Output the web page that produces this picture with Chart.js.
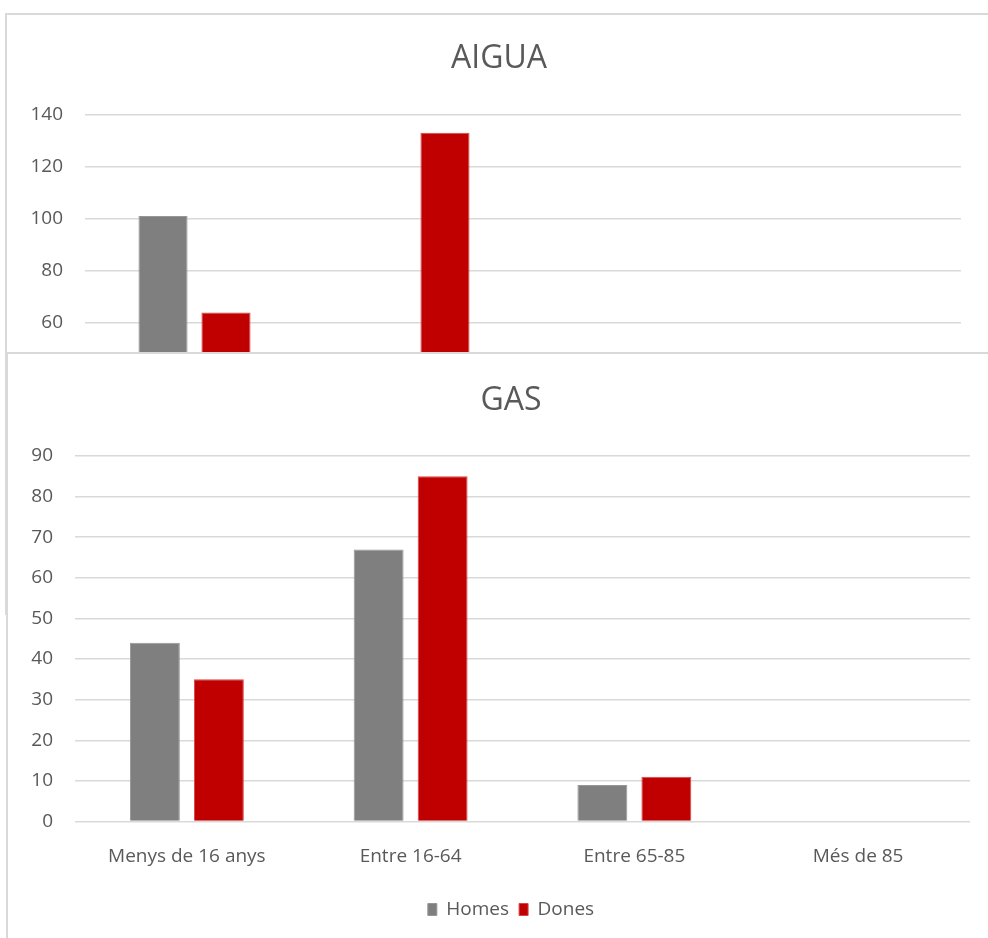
<!DOCTYPE html>
<html>
<head>
<meta charset="utf-8">
<script src="https://cdn.jsdelivr.net/npm/chart.js@4"></script>
<style>
  html, body { margin: 0; padding: 0; background: #fff; width: 988px; height: 938px; overflow: hidden; }
  .frame { position: absolute; background: #fff; border-left: 2px solid #d9d9d9; border-top: 2px solid #d9d9d9; }
  #aigua-frame { left: 5px; top: 13px; width: 1000px; height: 600px; z-index: 1; }
  #gas-frame   { left: 6px; top: 352px; width: 1020px; height: 600px; z-index: 3; }
  canvas { position: absolute; }
  #aiguaChart { left: 8px; top: 15px; z-index: 2; }
  #gasChart   { left: 8px; top: 354px; z-index: 4; }
</style>
</head>
<body>
<div class="frame" id="aigua-frame"></div>
<canvas id="aiguaChart" width="982" height="578"></canvas>
<div class="frame" id="gas-frame"></div>
<canvas id="gasChart" width="1006" height="584"></canvas>

<script>
// ====== dades ======
const categories = ['Menys de 16 anys', 'Entre 16-64', 'Entre 65-85', 'Més de 85'];
const seriesNames = ['Homes', 'Dones'];

// AIGUA: the lower part is covered by the GAS chart, unreadable values stay null
const aiguaHomes = [101, null, null, null];
const aiguaDones = [64, 133, null, null];
const aiguaTicks = { min: 0, max: 140, step: 20 };

const gasHomes = [44, 67, 9, 0];
const gasDones = [35, 85, 11, 0];
const gasTicks = { min: 0, max: 90, step: 10 };

// ====== estil ======
const TEXT = '#595959';
const GRID = '#d9d9d9';
const COLORS = {
    homes: { fill: '#7f7f7f', edge: '#969696' },
    dones: { fill: '#c00000', edge: '#d64545' },
};

Chart.defaults.font.family = "'Open Sans', sans-serif";
Chart.defaults.color = TEXT;

// layout numbers per chart (pixels inside each canvas)
function buildChart(canvasId, title, homes, dones, ticks, geo) {
    return new Chart(document.getElementById(canvasId).getContext('2d'), {
        type: 'bar',
        data: {
            labels: categories,
            datasets: [
                {
                    label: seriesNames[0], data: homes,
                    backgroundColor: COLORS.homes.fill, borderColor: COLORS.homes.edge,
                    borderWidth: 1, borderSkipped: 'bottom',
                    categoryPercentage: geo.cat, barPercentage: 0.78,
                },
                {
                    label: seriesNames[1], data: dones,
                    backgroundColor: COLORS.dones.fill, borderColor: COLORS.dones.edge,
                    borderWidth: 1, borderSkipped: 'bottom',
                    categoryPercentage: geo.cat, barPercentage: 0.78,
                },
            ],
        },
        options: {
            responsive: false,
            animation: false,
            layout: { padding: { left: 0, right: 0, top: 0, bottom: geo.padBottom } },
            plugins: {
                title: {
                    display: true, text: title, color: TEXT,
                    font: { size: 32, weight: 'normal' },
                    padding: { top: geo.titleTop, bottom: geo.titleBottom },
                },
                legend: {
                    position: 'bottom',
                    labels: { boxWidth: 9, boxHeight: 12, font: { size: 19 }, color: TEXT, padding: 10 },
                },
                tooltip: { enabled: false },
            },
            scales: {
                x: {
                    grid: { display: false },
                    border: { display: false },
                    ticks: { font: { size: 19 }, color: TEXT, padding: 16, maxRotation: 0 },
                    afterFit: (s) => { s.height = geo.xHeight; },
                },
                y: {
                    min: ticks.min, max: ticks.max,
                    grid: { color: GRID, lineWidth: 1.5, drawTicks: false },
                    border: { display: false },
                    ticks: { stepSize: ticks.step, font: { size: 19 }, color: TEXT, padding: 22 },
                    afterFit: (s) => { s.width = geo.left; },
                },
                // empty right-hand axis, only reserves the space right of the plot
                yRight: {
                    position: 'right',
                    grid: { display: false },
                    border: { display: false },
                    ticks: { display: false },
                    afterFit: (s) => { s.width = geo.right; },
                },
            },
        },
    });
}

buildChart('aiguaChart', 'AIGUA', aiguaHomes, aiguaDones, aiguaTicks,
    { cat: 0.575, left: 77, right: 29, titleTop: 25, titleBottom: 36, xHeight: 68.5, padBottom: 6 });

buildChart('gasChart', 'GAS', gasHomes, gasDones, gasTicks,
    { cat: 0.572, left: 67, right: 44, titleTop: 28, titleBottom: 35.6, xHeight: 68.5, padBottom: 9 });
</script>
</body>
</html>
